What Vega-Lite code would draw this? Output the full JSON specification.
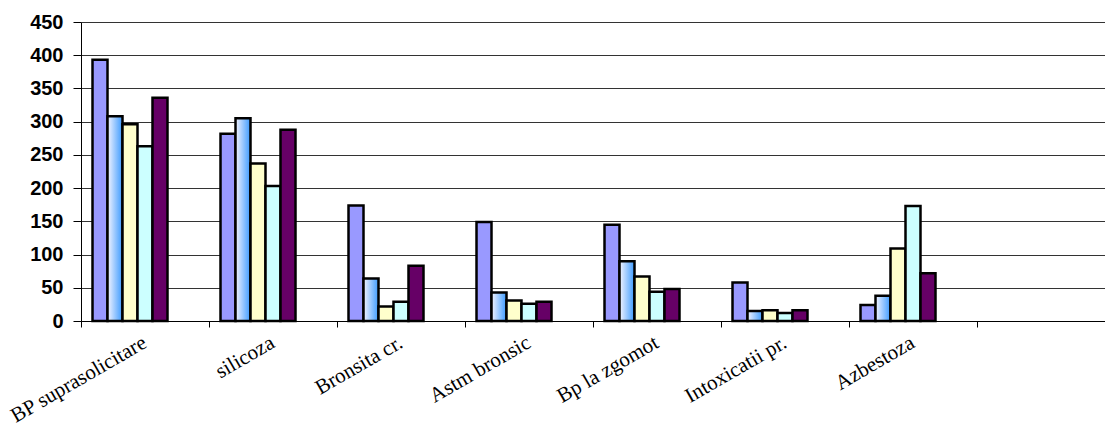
{
  "$schema": "https://vega.github.io/schema/vega-lite/v6.json",
  "width": 1024,
  "height": 299,
  "autosize": "none",
  "padding": {"left": 81, "top": 22, "right": 0, "bottom": 114},
  "background": "white",
  "config": {"view": {"stroke": null}},
  "data": {
    "values": [
      {"cat": "BP suprasolicitare", "s": "s1", "v": 393},
      {"cat": "BP suprasolicitare", "s": "s2", "v": 308},
      {"cat": "BP suprasolicitare", "s": "s3", "v": 296},
      {"cat": "BP suprasolicitare", "s": "s4", "v": 263},
      {"cat": "BP suprasolicitare", "s": "s5", "v": 336},
      {"cat": "silicoza", "s": "s1", "v": 282},
      {"cat": "silicoza", "s": "s2", "v": 305},
      {"cat": "silicoza", "s": "s3", "v": 237},
      {"cat": "silicoza", "s": "s4", "v": 203},
      {"cat": "silicoza", "s": "s5", "v": 288},
      {"cat": "Bronsita cr.", "s": "s1", "v": 174},
      {"cat": "Bronsita cr.", "s": "s2", "v": 64},
      {"cat": "Bronsita cr.", "s": "s3", "v": 22},
      {"cat": "Bronsita cr.", "s": "s4", "v": 29},
      {"cat": "Bronsita cr.", "s": "s5", "v": 83},
      {"cat": "Astm bronsic", "s": "s1", "v": 149},
      {"cat": "Astm bronsic", "s": "s2", "v": 43},
      {"cat": "Astm bronsic", "s": "s3", "v": 31},
      {"cat": "Astm bronsic", "s": "s4", "v": 26},
      {"cat": "Astm bronsic", "s": "s5", "v": 29},
      {"cat": "Bp la zgomot", "s": "s1", "v": 145},
      {"cat": "Bp la zgomot", "s": "s2", "v": 90},
      {"cat": "Bp la zgomot", "s": "s3", "v": 67},
      {"cat": "Bp la zgomot", "s": "s4", "v": 44},
      {"cat": "Bp la zgomot", "s": "s5", "v": 48},
      {"cat": "Intoxicatii pr.", "s": "s1", "v": 58},
      {"cat": "Intoxicatii pr.", "s": "s2", "v": 15},
      {"cat": "Intoxicatii pr.", "s": "s3", "v": 16},
      {"cat": "Intoxicatii pr.", "s": "s4", "v": 12},
      {"cat": "Intoxicatii pr.", "s": "s5", "v": 16},
      {"cat": "Azbestoza", "s": "s1", "v": 24},
      {"cat": "Azbestoza", "s": "s2", "v": 38},
      {"cat": "Azbestoza", "s": "s3", "v": 109},
      {"cat": "Azbestoza", "s": "s4", "v": 173},
      {"cat": "Azbestoza", "s": "s5", "v": 72}
    ]
  },
  "encoding": {
    "xOffset": {
      "field": "s",
      "type": "nominal",
      "scale": {"domain": ["s1", "s2", "s3", "s4", "s5", "s6", "s7"], "paddingInner": 0, "paddingOuter": 0.767}
    },
    "y": {
      "field": "v",
      "type": "quantitative",
      "scale": {"domain": [0, 450], "nice": false},
      "axis": {
        "title": null,
        "values": [0, 50, 100, 150, 200, 250, 300, 350, 400, 450],
        "labelFont": "Liberation Sans",
        "labelFontWeight": "bold",
        "labelFontSize": 20,
        "labelColor": "black",
        "labelPadding": 10,
        "tickSize": 8,
        "tickColor": "black",
        "domainColor": "black",
        "grid": true,
        "gridColor": "#333",
        "gridWidth": 1
      }
    }
  },
  "layer": [
    {
      "mark": {"type": "bar", "opacity": 0},
      "encoding": {
        "x": {
          "field": "cat",
          "type": "nominal",
          "sort": null,
          "scale": {
            "domain": ["BP suprasolicitare", "silicoza", "Bronsita cr.", "Astm bronsic", "Bp la zgomot", "Intoxicatii pr.", "Azbestoza", " "],
            "paddingInner": 0,
            "paddingOuter": 0
          },
          "axis": {
            "orient": "bottom",
            "title": null,
            "bandPosition": 0,
            "labels": false,
            "tickSize": 6,
            "tickColor": "black",
            "domain": false,
            "grid": false
          }
        }
      }
    },
    {
      "mark": {"type": "bar", "stroke": "black", "strokeWidth": 2.5},
      "encoding": {
        "x": {
          "field": "cat",
          "type": "nominal",
          "sort": null,
          "axis": {
            "orient": "bottom",
            "title": null,
            "labelAngle": -30,
            "labelAlign": "right",
            "labelBaseline": "middle",
            "labelFont": "Liberation Serif",
            "labelFontSize": 21,
            "labelColor": "black",
            "labelPadding": 20,
            "ticks": false,
            "domainColor": "black",
            "grid": false
          }
        },
        "fill": {
          "condition": {
            "test": "datum.s === 's2'",
            "value": {"gradient": "linear", "x1": 0, "y1": 0, "x2": 1, "y2": 0, "stops": [{"offset": 0, "color": "#f4f4ff"}, {"offset": 1, "color": "#3d9bff"}]}
          },
          "field": "s",
          "type": "nominal",
          "scale": {"domain": ["s1", "s2", "s3", "s4", "s5"], "range": ["#9999ff", "#66aaff", "#ffffcc", "#ccffff", "#660066"]},
          "legend": null
        }
      }
    }
  ],
  "resolve": {"axis": {"x": "independent"}}
}
